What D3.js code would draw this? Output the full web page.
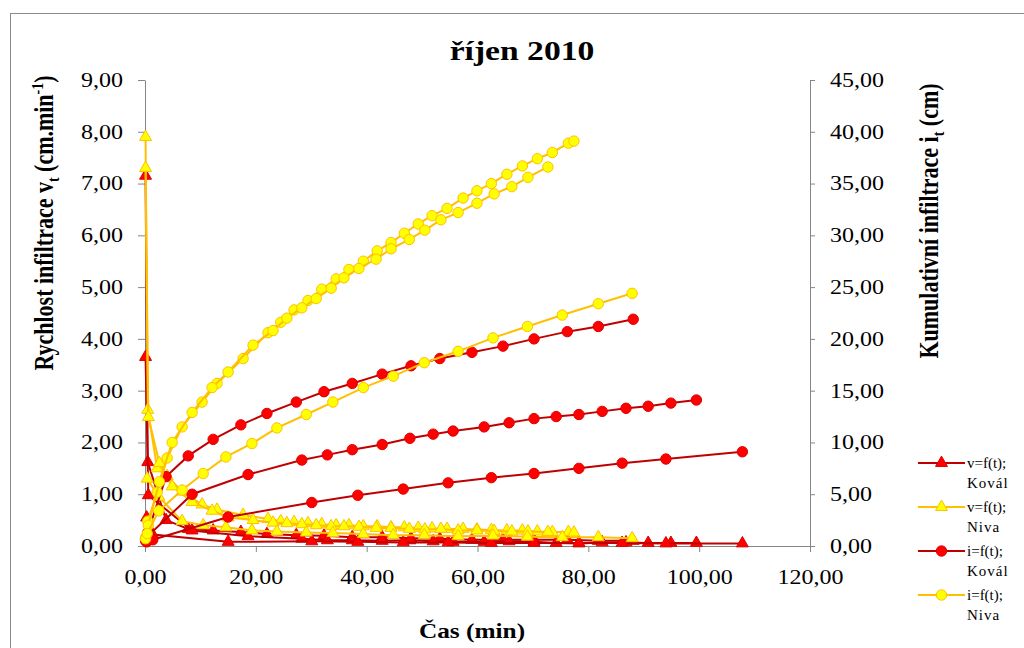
<!DOCTYPE html>
<html>
<head>
<meta charset="utf-8">
<script src="https://cdn.jsdelivr.net/npm/d3@7"></script>
<style>
body { margin: 0; background: #fff; }
svg text { font-family: "Liberation Serif", "Times New Roman", serif; fill: #000; }
.axis path, .axis line { stroke: #868686; }
</style>
</head>
<body>
<div id="chart"></div>
<script>
// tick values
var xTicks = [0, 20, 40, 60, 80, 100, 120];
var vTicks = [0, 1, 2, 3, 4, 5, 6, 7, 8, 9];
var iTicks = [0, 5, 10, 15, 20, 25, 30, 35, 40, 45];

// Kovál - three runs (time min, cumulative infiltration cm, infiltration rate cm/min)
var tKoval1 = [0.1, 0.5, 3.8, 7.8, 12.3, 17.3, 22.0, 27.3, 32.3, 37.4, 42.8, 48.0, 53.2, 59.0, 64.6, 70.2, 76.2, 81.8, 88.1];
var iKoval1 = [0.7, 1.3, 6.7, 8.7, 10.3, 11.7, 12.8, 13.9, 14.9, 15.7, 16.6, 17.4, 18.1, 18.7, 19.3, 20.0, 20.7, 21.2, 21.9];
var vKoval1 = [7.15, 1.62, 0.5, 0.33, 0.3, 0.27, 0.23, 0.21, 0.2, 0.17, 0.17, 0.15, 0.14, 0.12, 0.12, 0.12, 0.12, 0.1, 0.1];

var tKoval2 = [0.1, 0.6, 8.5, 18.6, 28.3, 32.9, 37.4, 42.8, 47.8, 52.0, 55.6, 61.2, 65.7, 70.2, 74.2, 78.3, 82.5, 86.8, 90.8, 94.9, 99.5];
var iKoval2 = [0.5, 1.0, 5.0, 6.9, 8.3, 8.8, 9.3, 9.8, 10.4, 10.8, 11.1, 11.5, 11.9, 12.3, 12.5, 12.7, 13.0, 13.3, 13.5, 13.8, 14.1];
var vKoval2 = [3.65, 0.98, 0.3, 0.19, 0.14, 0.11, 0.11, 0.1, 0.11, 0.09, 0.08, 0.08, 0.09, 0.08, 0.06, 0.05, 0.07, 0.07, 0.06, 0.06, 0.06];

var tKoval3 = [0.3, 1.4, 15.0, 30.1, 38.4, 46.6, 54.7, 62.5, 70.2, 78.3, 86.1, 94.0, 107.8];
var iKoval3 = [0.4, 0.6, 2.8, 4.2, 4.9, 5.5, 6.1, 6.6, 7.0, 7.5, 8.0, 8.4, 9.1];
var vKoval3 = [0.55, 0.22, 0.08, 0.09, 0.08, 0.07, 0.07, 0.06, 0.06, 0.06, 0.06, 0.05, 0.05];

// Niva - three runs
var tNiva1 = [0.1, 0.5, 2.2, 4.0, 6.7, 10.3, 13.0, 17.7, 22.2, 24.5, 26.9, 29.4, 31.9, 34.5, 36.8, 39.4, 41.9, 44.4, 46.8, 49.3, 51.8, 54.5, 57.4, 59.9, 62.5, 65.3, 68.1, 70.8, 73.5, 76.4, 77.4];
var iNiva1 = [0.8, 2.4, 5.2, 8.5, 11.5, 13.9, 15.7, 18.1, 20.6, 21.6, 22.8, 23.7, 24.8, 25.8, 26.7, 27.5, 28.5, 29.3, 30.2, 31.1, 31.9, 32.6, 33.6, 34.3, 35.0, 35.9, 36.7, 37.4, 38.0, 38.9, 39.1];
var vNiva1 = [7.9, 2.63, 1.5, 1.35, 1.05, 0.8, 0.7, 0.6, 0.52, 0.48, 0.46, 0.44, 0.42, 0.4, 0.4, 0.38, 0.38, 0.36, 0.36, 0.35, 0.34, 0.33, 0.33, 0.32, 0.31, 0.3, 0.3, 0.28, 0.27, 0.27, 0.26];

var tNiva2 = [0.1, 0.6, 2.6, 4.9, 8.5, 12.1, 15.0, 19.5, 23.1, 25.6, 28.3, 30.9, 33.6, 35.9, 38.6, 41.7, 44.4, 47.7, 50.5, 53.4, 56.5, 59.9, 63.0, 66.2, 69.1, 72.7];
var iNiva2 = [0.7, 2.0, 6.2, 10.0, 12.9, 15.3, 16.8, 19.4, 20.8, 22.0, 23.0, 23.9, 24.9, 25.9, 26.8, 27.7, 28.7, 29.6, 30.5, 31.5, 32.2, 33.1, 34.0, 34.7, 35.6, 36.6];
var vNiva2 = [7.3, 2.49, 1.6, 1.15, 0.85, 0.68, 0.55, 0.5, 0.45, 0.44, 0.42, 0.4, 0.38, 0.38, 0.37, 0.35, 0.35, 0.33, 0.32, 0.33, 0.3, 0.3, 0.29, 0.28, 0.28, 0.27];

var tNiva3 = [0.4, 2.5, 6.7, 10.5, 14.6, 19.3, 23.8, 29.1, 33.9, 39.4, 44.8, 50.4, 56.5, 62.8, 69.0, 75.3, 81.8, 87.9];
var iNiva3 = [1.2, 3.4, 5.4, 7.0, 8.6, 9.9, 11.4, 12.7, 13.9, 15.3, 16.4, 17.7, 18.8, 20.1, 21.2, 22.3, 23.4, 24.4];
var vNiva3 = [1.3, 0.95, 0.48, 0.4, 0.36, 0.3, 0.28, 0.26, 0.25, 0.23, 0.21, 0.21, 0.19, 0.2, 0.18, 0.17, 0.17, 0.15];

var legendNames = ["v=f(t);|Kovál", "v=f(t);|Niva", "i=f(t);|Kovál", "i=f(t);|Niva"];

var red = {line: "#C00000", fill: "#FF0000", stroke: "#E00000"};
var yel = {line: "#FFC000", fill: "#FFFF00", stroke: "#FFC000"};

function pts(t, v) { return t.map(function(d, i) { return [d, v[i]]; }); }

// series in draw order
var series = [
	{data: pts(tKoval1, vKoval1), axis: "v", shape: "tri", col: red},
	{data: pts(tKoval2, vKoval2), axis: "v", shape: "tri", col: red},
	{data: pts(tKoval3, vKoval3), axis: "v", shape: "tri", col: red},
	{data: pts(tNiva1, vNiva1), axis: "v", shape: "tri", col: yel},
	{data: pts(tNiva2, vNiva2), axis: "v", shape: "tri", col: yel},
	{data: pts(tNiva3, vNiva3), axis: "v", shape: "tri", col: yel},
	{data: pts(tKoval1, iKoval1), axis: "i", shape: "dot", col: red},
	{data: pts(tKoval2, iKoval2), axis: "i", shape: "dot", col: red},
	{data: pts(tKoval3, iKoval3), axis: "i", shape: "dot", col: red},
	{data: pts(tNiva1, iNiva1), axis: "i", shape: "dot", col: yel},
	{data: pts(tNiva2, iNiva2), axis: "i", shape: "dot", col: yel},
	{data: pts(tNiva3, iNiva3), axis: "i", shape: "dot", col: yel}
];

var width = 1024, height = 648;
var margin = {top: 80, right: 214, bottom: 102, left: 145};

var svg = d3.select("#chart").append("svg")
	.attr("width", width)
	.attr("height", height);

// chart frame
svg.append("rect")
	.attr("x", 10.5).attr("y", 13.5)
	.attr("width", 1040).attr("height", 680)
	.attr("fill", "#fff")
	.attr("stroke", "#8c8c8c");

var x = d3.scaleLinear().domain([0, 120]).range([margin.left, width - margin.right]);
var yV = d3.scaleLinear().domain([0, 9]).range([height - margin.bottom, margin.top]);
var yI = d3.scaleLinear().domain([0, 45]).range([height - margin.bottom, margin.top]);

var fmt = function(d) { return d3.format(".2f")(d).replace(".", ","); };

function stretch(sel, k) {
	sel.each(function() {
		var w = this.getComputedTextLength();
		d3.select(this).attr("textLength", w * k).attr("lengthAdjust", "spacingAndGlyphs");
	});
}

var gx = svg.append("g")
	.attr("class", "axis")
	.attr("transform", "translate(0," + (height - margin.bottom) + ")")
	.call(d3.axisBottom(x).tickValues(xTicks).tickFormat(fmt).tickSize(6).tickPadding(18).tickSizeOuter(0));

var gl = svg.append("g")
	.attr("class", "axis")
	.attr("transform", "translate(" + margin.left + ",0)")
	.call(d3.axisLeft(yV).tickValues(vTicks).tickFormat(fmt).tickSize(7).tickPadding(15).tickSizeOuter(0));

var gr = svg.append("g")
	.attr("class", "axis")
	.attr("transform", "translate(" + (width - margin.right) + ",0)")
	.call(d3.axisRight(yI).tickValues(iTicks).tickFormat(fmt).tickSize(5).tickPadding(15).tickSizeOuter(0));

[gx, gl, gr].forEach(function(g) {
	g.attr("font-family", null).attr("font-size", 20);
	g.selectAll("text").style("fill", "#000");
	stretch(g.selectAll("text"), 1.2);
});

// lines and markers
var tri = d3.symbol().type(d3.symbolTriangle).size(62);

series.forEach(function(s) {
	var y = s.axis === "v" ? yV : yI;
	var line = d3.line()
		.x(function(d) { return x(d[0]); })
		.y(function(d) { return y(d[1]); });

	svg.append("path")
		.datum(s.data)
		.attr("fill", "none")
		.attr("stroke", s.col.line)
		.attr("stroke-width", 2)
		.attr("d", line);

	var m = svg.append("g");
	if (s.shape === "tri") {
		m.selectAll("path")
			.data(s.data)
		  .enter().append("path")
			.attr("d", tri)
			.attr("transform", function(d) { return "translate(" + x(d[0]) + "," + y(d[1]) + ")"; })
			.attr("fill", s.col.fill)
			.attr("stroke", s.col.stroke)
			.attr("stroke-width", 1);
	} else {
		m.selectAll("circle")
			.data(s.data)
		  .enter().append("circle")
			.attr("cx", function(d) { return x(d[0]); })
			.attr("cy", function(d) { return y(d[1]); })
			.attr("r", 5.2)
			.attr("fill", s.col.fill)
			.attr("stroke", s.col.stroke)
			.attr("stroke-width", 1);
	}
});

// title
var title = svg.append("text")
	.attr("x", 522).attr("y", 60)
	.attr("text-anchor", "middle")
	.attr("font-size", 28)
	.attr("font-weight", "bold")
	.text("říjen 2010");
stretch(title, 1.2);

var xTitle = svg.append("text")
	.attr("x", 472).attr("y", 638)
	.attr("text-anchor", "middle")
	.attr("font-size", 22)
	.attr("font-weight", "bold")
	.text("Čas (min)");
stretch(xTitle, 1.15);

// left axis title
var lt = svg.append("text")
	.attr("transform", "translate(53,223) rotate(-90) scale(1,1.2)")
	.attr("text-anchor", "middle")
	.attr("font-size", 22)
	.attr("font-weight", "bold");
lt.append("tspan").text("Rychlost infiltrace v");
lt.append("tspan").attr("font-size", 14).attr("dy", 5).text("t");
lt.append("tspan").attr("dy", -5).text(" (cm.min");
lt.append("tspan").attr("font-size", 14).attr("dy", -8).text("-1");
lt.append("tspan").attr("dy", 8).text(")");

// right axis title
var rt = svg.append("text")
	.attr("transform", "translate(938,221) rotate(-90) scale(1,1.2)")
	.attr("text-anchor", "middle")
	.attr("font-size", 22)
	.attr("font-weight", "bold");
rt.append("tspan").text("Kumulativní infiltrace i");
rt.append("tspan").attr("font-size", 14).attr("dy", 5).text("t");
rt.append("tspan").attr("dy", -5).text(" (cm)");

// legend
var legendCols = [red, yel, red, yel];
var legendShapes = ["tri", "tri", "dot", "dot"];
var lg = svg.append("g").attr("transform", "translate(918,463)");
legendNames.forEach(function(name, k) {
	var row = lg.append("g").attr("transform", "translate(0," + (k * 44) + ")");
	var c = legendCols[k];
	row.append("line")
		.attr("x1", 0).attr("x2", 47)
		.attr("stroke", c.line).attr("stroke-width", 2);
	if (legendShapes[k] === "tri") {
		row.append("path").attr("d", tri).attr("transform", "translate(23.5,0)")
			.attr("fill", c.fill).attr("stroke", c.stroke);
	} else {
		row.append("circle").attr("cx", 23.5).attr("r", 5.2)
			.attr("fill", c.fill).attr("stroke", c.stroke);
	}
	var parts = name.split("|");
	row.append("text").attr("x", 49).attr("y", 5).attr("font-size", 15).text(parts[0]);
	row.append("text").attr("x", 49).attr("y", 25).attr("font-size", 15)
		.attr("letter-spacing", 1).text(parts[1]);
});
</script>
</body>
</html>
